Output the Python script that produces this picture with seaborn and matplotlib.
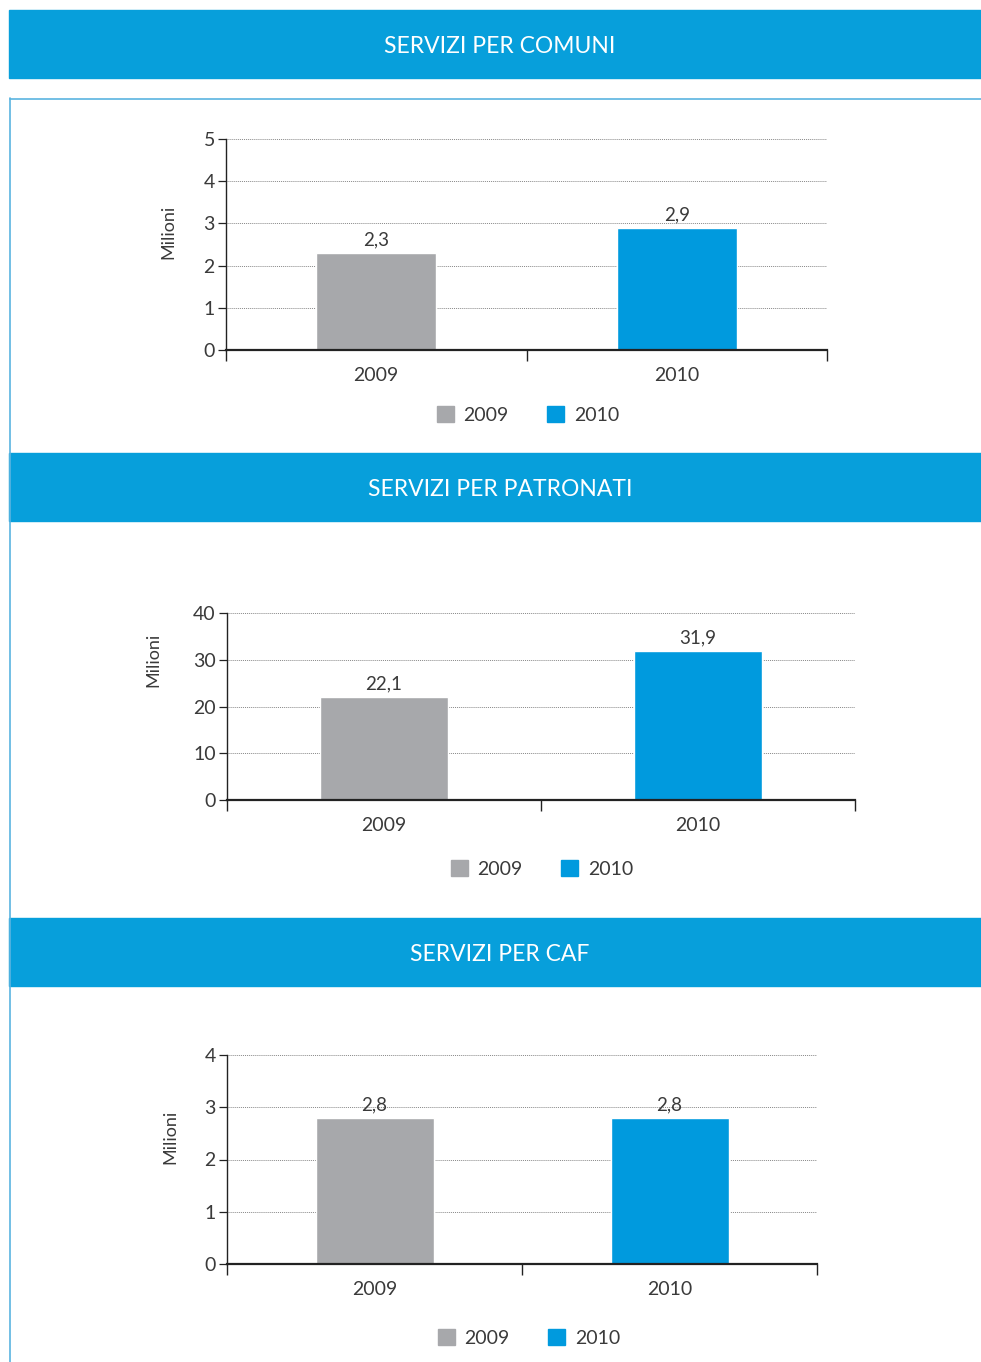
import numpy as np
import pandas as pd
import seaborn as sns
import matplotlib.pyplot as plt
from matplotlib.patches import Rectangle, Patch
from matplotlib.lines import Line2D

# data
years = ['2009', '2010']
titles = ['SERVIZI PER COMUNI', 'SERVIZI PER PATRONATI', 'SERVIZI PER CAF']
comuni = [2.3, 2.9]
patronati = [22.1, 31.9]
caf = [2.8, 2.8]
y_ticks = [[0, 1, 2, 3, 4, 5], [0, 10, 20, 30, 40], [0, 1, 2, 3, 4]]
y_label = 'Milioni'

GRAY = '#A7A8AB'
BLUE = '#009ADE'
BANNER = '#079FDB'
TXT = '#3a3a3a'

sns.set_style('white')
plt.rcParams['font.family'] = ['Lato', 'DejaVu Sans']

W, H = 981, 1362
fig = plt.figure(figsize=(W / 100, H / 100), dpi=100)


def px_rect(x0, y0, x1, y1):
    # pixel box (top-left origin) -> figure fraction
    return [x0 / W, 1 - y1 / H, (x1 - x0) / W, (y1 - y0) / H]


# blue banners
banners = [(10, 78), (453, 521), (918, 986)]
for (t, b), title in zip(banners, titles):
    fig.patches.append(Rectangle((9 / W, 1 - b / H), 1, (b - t) / H,
                                 transform=fig.transFigure, color=BANNER, zorder=0))
    fig.text(500 / W, 1 - ((t + b) / 2 + 2.5) / H, title, color='white', fontsize=16.5,
             ha='center', va='center')

# light blue frame
fig.lines.append(Line2D([9.5 / W, 9.5 / W], [1 - 98 / H, 0], transform=fig.transFigure,
                        color='#5AB4E0', lw=1.2))
fig.lines.append(Line2D([9.5 / W, 1], [1 - 98.5 / H, 1 - 98.5 / H], transform=fig.transFigure,
                        color='#5AB4E0', lw=1.2))

series = [comuni, patronati, caf]
boxes = [(226, 139, 827, 350), (227, 613, 855, 800), (227, 1055, 817, 1264)]
ylab_pos = [(168, 232), (153, 660), (170, 1137)]
legend_y = [415, 869, 1338]
legend_x = [528, 542, 529]
widths = [0.40, 0.41, 0.40]

for vals, box, yt, ylp, lx, ly, bw in zip(series, boxes, y_ticks, ylab_pos, legend_x, legend_y, widths):
    ax = fig.add_axes(px_rect(*box))
    df = pd.DataFrame({'anno': years, 'valore': vals})
    sns.barplot(data=df, x='anno', y='valore', hue='anno', palette=[GRAY, BLUE],
                width=bw, legend=False, ax=ax, saturation=1)
    ax.set_xlim(-0.5, 1.5)
    ax.set_ylim(yt[0], yt[-1])
    ax.set_yticks(yt)
    ax.set_yticklabels([str(v) for v in yt])
    ax.yaxis.grid(True, linestyle=(0, (1, 1)), color='#888888', lw=0.7)
    ax.set_axisbelow(True)
    for s in ['top', 'right']:
        ax.spines[s].set_visible(False)
    ax.spines['left'].set_color('#222222')
    ax.spines['left'].set_linewidth(1.0)
    ax.spines['bottom'].set_color('#222222')
    ax.spines['bottom'].set_linewidth(1.6)
    ax.set_xlabel('')
    ax.set_ylabel('')
    ax.tick_params(axis='y', length=6, width=0.9, color='#222222', labelsize=14,
                   labelcolor=TXT, pad=2, left=True)
    ax.tick_params(axis='x', which='major', length=0, labelsize=14, labelcolor=TXT, pad=12)
    ax.set_xticks([-0.5, 0.5, 1.5], minor=True)
    ax.tick_params(axis='x', which='minor', length=8, width=1.0, color='#222222',
                   direction='out', bottom=True)
    for c in ax.containers:
        ax.bar_label(c, labels=[f'{v:.1f}'.replace('.', ',') for v in c.datavalues],
                     fontsize=13.5, color=TXT, padding=3)
    fig.text(ylp[0] / W, 1 - ylp[1] / H, y_label, rotation=90, fontsize=13,
             color=TXT, ha='center', va='center')
    handles = [Patch(color=GRAY, label=years[0]), Patch(color=BLUE, label=years[1])]
    fig.legend(handles=handles, loc='center', bbox_to_anchor=(lx / W, 1 - ly / H),
               ncol=2, frameon=False, fontsize=14, labelcolor=TXT,
               handlelength=0.85, handleheight=0.85, handletextpad=0.5, columnspacing=2.0)

fig.savefig('out.png', dpi=100)
